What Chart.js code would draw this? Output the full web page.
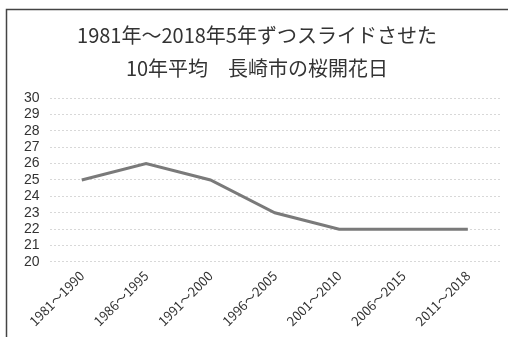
<!DOCTYPE html>
<html><head><meta charset="utf-8">
<script src="https://cdn.jsdelivr.net/npm/chart.js@4/dist/chart.umd.min.js"></script>
<style>html,body{margin:0;padding:0;background:#fff;}#wrap{width:508px;height:337px;}</style>
</head><body><div id="wrap"><canvas id="c" width="508" height="337"></canvas></div>
<script>
const categories = ["1981～1990","1986～1995","1991～2000","1996～2005","2001～2010","2006～2015","2011～2018"];
const bloomDay = [25, 26, 25, 23, 22, 22, 22];
const yTicks = [20,21,22,23,24,25,26,27,28,29,30];
const titleLines = ["1981年～2018年5年ずつスライドさせた", "10年平均　長崎市の桜開花日"];

const frame = {
  id: 'frame',
  beforeDraw(chart) {
    const ctx = chart.ctx;
    ctx.save();
    ctx.fillStyle = '#fff';
    ctx.fillRect(0, 0, chart.width, chart.height);
    ctx.strokeStyle = '#444';
    ctx.lineWidth = 1.5;
    ctx.beginPath();
    ctx.moveTo(6.5, chart.height);
    ctx.lineTo(6.5, 9.5);
    ctx.lineTo(chart.width, 9.5);
    ctx.stroke();
    ctx.restore();
  }
};

new Chart(document.getElementById('c'), {
  type: 'line',
  data: {
    labels: categories,
    datasets: [{
      data: bloomDay,
      borderColor: '#7a7a7a',
      borderWidth: 3,
      pointRadius: 0,
      tension: 0,
      fill: false
    }]
  },
  options: {
    responsive: false,
    animation: false,
    layout: { padding: { left: 14, right: 8, top: 19, bottom: 2 } },
    plugins: {
      legend: { display: false },
      tooltip: { enabled: false },
      title: {
        display: true,
        text: titleLines,
        color: '#333',
        font: { family: '"Noto Sans CJK JP", sans-serif', size: 20, weight: 'normal', lineHeight: 1.65 },
        padding: { top: 0, bottom: 13 }
      }
    },
    scales: {
      x: {
        offset: true,
        grid: { display: false, drawTicks: false },
        border: { display: false },
        ticks: {
          color: '#333',
          font: { family: '"Noto Sans CJK JP", sans-serif', size: 13 },
          minRotation: 45, maxRotation: 45, padding: 6, autoSkip: false
        }
      },
      y: {
        min: 20, max: 30,
        grid: { color: '#d8d8d8', lineWidth: 1, drawTicks: false },
        border: { display: false, dash: [2, 2] },
        ticks: {
          stepSize: 1,
          autoSkip: false,
          color: '#333',
          font: { family: '"Liberation Sans", sans-serif', size: 14 },
          padding: 10,
          callback: v => (yTicks.includes(v) ? String(v) : '')
        }
      }
    }
  },
  plugins: [frame]
});
</script></body></html>
